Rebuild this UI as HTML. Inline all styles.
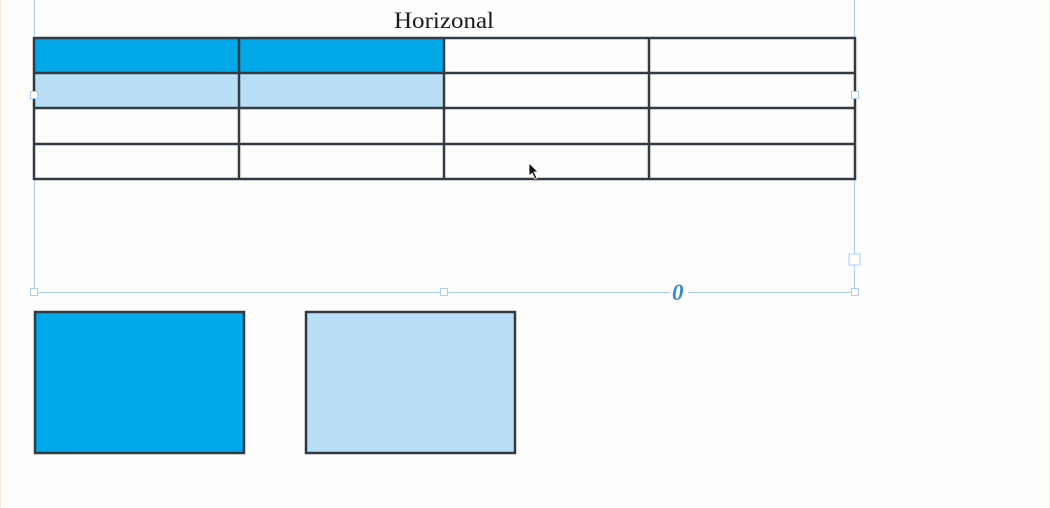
<!DOCTYPE html>
<html><head><style>html,body{margin:0;padding:0;background:#fdfdfb;}</style></head>
<body>
<svg width="1050" height="508" xmlns="http://www.w3.org/2000/svg" style="display:block">
<rect x="0" y="0" width="1050" height="508" fill="#fdfdfb"/>
<line x1="0.5" y1="0" x2="0.5" y2="508" stroke="#f6e6dc" stroke-width="1"/>
<line x1="1049.5" y1="0" x2="1049.5" y2="508" stroke="#f2eee8" stroke-width="1"/>
<g stroke="#a9cdf5" stroke-width="1" fill="none">
<line x1="34.5" y1="0" x2="34.5" y2="292"/>
<line x1="854.5" y1="0" x2="854.5" y2="292"/>
<line x1="34" y1="292.5" x2="855" y2="292.5"/>
</g>
<text x="394" y="28" font-family="Liberation Serif, serif" font-size="23" fill="#1a1a1a" textLength="100" lengthAdjust="spacingAndGlyphs">Horizonal</text>
<rect x="34" y="38" width="410" height="35" fill="#00a8e8"/>
<rect x="34" y="73" width="410" height="35" fill="#b8dff5"/>
<g stroke="#333a44" stroke-width="2.5" fill="none">
<rect x="34" y="38" width="821" height="141"/>
<line x1="34" y1="73" x2="855" y2="73"/>
<line x1="34" y1="108" x2="855" y2="108"/>
<line x1="34" y1="144" x2="855" y2="144"/>
<line x1="239" y1="38" x2="239" y2="179"/>
<line x1="444" y1="38" x2="444" y2="179"/>
<line x1="649" y1="38" x2="649" y2="179"/>
</g>
<g fill="#fff" stroke="#a9cdf5" stroke-width="1">
<rect x="30.5" y="91.5" width="7" height="7"/>
<rect x="851.5" y="91.5" width="7" height="7"/>
<rect x="30.5" y="288.5" width="7" height="7"/>
<rect x="440.5" y="288.5" width="7" height="7"/>
<rect x="851.5" y="288.5" width="7" height="7"/>
<rect x="849" y="254" width="11" height="11"/>
</g>
<rect x="670" y="283" width="18" height="18" fill="#fdfdfb"/>
<text x="672" y="300" font-family="Liberation Serif, serif" font-style="italic" font-weight="bold" font-size="23" fill="#3a86d8">0</text>
<path d="M529,163 L529,176 L532,173 L535,179 L537,178 L534,172 L538,172 Z" fill="#111" stroke="#fff" stroke-width="0.8"/>
<rect x="35" y="312" width="209" height="141" fill="#00a8e8" stroke="#333a44" stroke-width="2.5"/>
<rect x="306" y="312" width="209" height="141" fill="#b8dff5" stroke="#333a44" stroke-width="2.5"/>
</svg>
</body></html>
